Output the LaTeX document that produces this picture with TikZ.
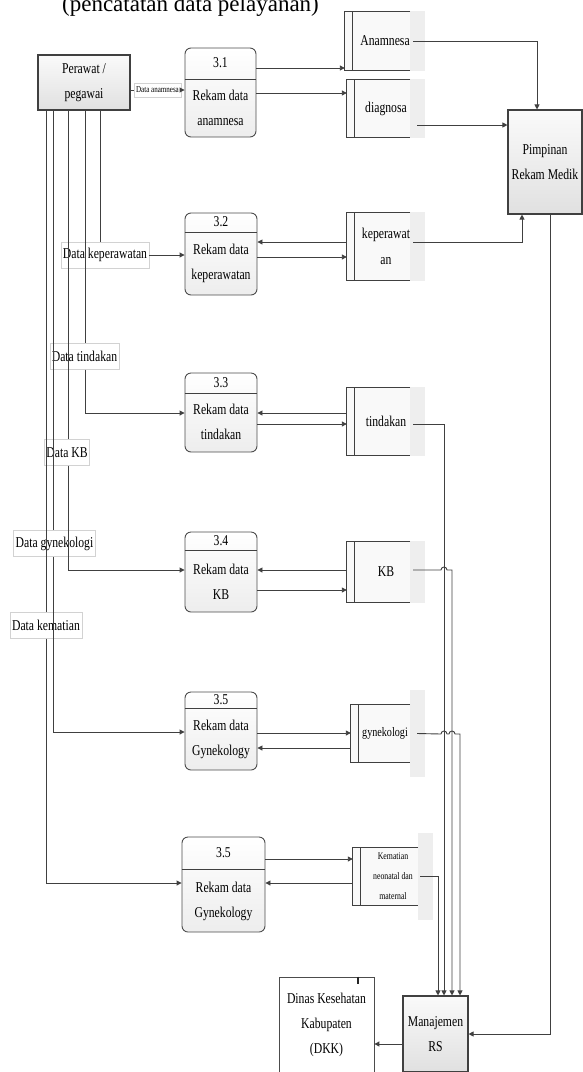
\documentclass[tikz,border=0pt]{standalone}
\usepackage{fontspec}
\setmainfont{Liberation Serif}[FakeStretch=0.78]
\newfontfamily\titlefont{Liberation Serif}
\usepackage{tikz}
\usetikzlibrary{arrows.meta,calc,backgrounds}
% open data store: double left bar, top/bottom rules, light strip on the right
\newcommand{\storelines}[2]{%
  \begin{pgfonlayer}{background}
    \fill[gray!5] (#1.north west) rectangle (#1.south east);
    \fill[gray!13] ([xshift=-15pt,yshift=#2pt]#1.north east) rectangle ([yshift=-#2pt]#1.south east);
  \end{pgfonlayer}
  \draw[ln] ([xshift=-15pt]#1.north east) -- (#1.north west) -- (#1.south west) -- ([xshift=-15pt]#1.south east);
  \draw[ln] ([xshift=8pt]#1.north west) -- ([xshift=8pt]#1.south west);
}

\begin{document}
\begin{tikzpicture}[
    x=1pt, y=-1pt,
    every node/.style={font=\fontsize{15}{25}\selectfont, align=center, inner sep=0pt},
    ent/.style={draw=black!75, line width=1.1pt, top color=gray!4, bottom color=gray!24},
    proc/.style={draw=black!70, line width=0.9pt, rounded corners=6pt, top color=white, bottom color=gray!14, minimum width=72pt},
    store/.style={},
    lbl/.style={draw=gray!35, line width=0.4pt, inner xsep=2pt, minimum height=26pt},
    ln/.style={line width=0.9pt, draw=black!75},
    arr/.style={ln, -{Triangle[length=5pt,width=5pt]}}
  ]
  \useasboundingbox (0,0) rectangle (582,1072);

  \node[anchor=base, font=\titlefont\fontsize{23}{28}\selectfont] (judul) at (190.5,11) {(pencatatan data pelayanan)};

  % entitas
  \node[ent, minimum width=92pt, minimum height=55pt] (perawat) at (84,82.5) {Perawat /\\pegawai};
  \node[ent, minimum width=74pt, minimum height=104pt] (pimpinan) at (545,162) {Pimpinan\\Rekam Medik};
  \node[ent, minimum width=65pt, minimum height=76pt] (manaj) at (435.5,1034) {Manajemen\\RS};
  \node[draw=black!70, line width=0.8pt, fill=white, minimum width=95pt, minimum height=95pt] (dinas) at (326.5,1024.5) {Dinas Kesehatan\\Kabupaten\\(DKK)};
  \draw[line width=2.5pt, black!85] ([xshift=31.5pt]dinas.north) -- ++(0,7);

  % proses
  \node[proc, minimum width=71pt, minimum height=89pt] (p31) at (220.5,92.5) {};
  \node (p31n) at (220.5,63) {3.1};
  \node (p31t) at (220.5,108) {Rekam data\\anamnesa};
  \draw[ln] (p31.west |- 0,79) -- (p31.east |- 0,79);

  \node[proc, minimum height=82pt] (p32) at (221,254) {};
  \node (p32n) at (221,222) {3.2};
  \node (p32t) at (221,263) {Rekam data\\keperawatan};
  \draw[ln] (p32.west |- 0,232) -- (p32.east |- 0,232);

  \node[proc, minimum height=79pt] (p33) at (221,412.5) {};
  \node (p33n) at (221,383) {3.3};
  \node (p33t) at (221,422) {Rekam data\\tindakan};
  \draw[ln] (p33.west |- 0,393) -- (p33.east |- 0,393);

  \node[proc, minimum height=80pt] (p34) at (221,572) {};
  \node (p34n) at (221,541) {3.4};
  \node (p34t) at (221,582) {Rekam data\\KB};
  \draw[ln] (p34.west |- 0,550) -- (p34.east |- 0,550);

  \node[proc, minimum height=78pt] (p35) at (221,731) {};
  \node (p35n) at (221,700) {3.5};
  \node (p35t) at (221,739) {Rekam data\\Gynekology};
  \draw[ln] (p35.west |- 0,708) -- (p35.east |- 0,708);

  \node[proc, minimum width=83pt, minimum height=95pt] (p35b) at (223.5,884.5) {};
  \node (p35bn) at (223.5,853) {3.5};
  \node (p35bt) at (223.5,901) {Rekam data\\Gynekology};
  \draw[ln] (p35b.west |- 0,869) -- (p35b.east |- 0,869);

  % data store
  \node[store, minimum width=80pt, minimum height=58pt] (sAnam) at (385,41) {Anamnesa};
  \storelines{sAnam}{1}
  \node[store, minimum width=78pt, minimum height=57pt] (sDiag) at (386,108.5) {diagnosa};
  \storelines{sDiag}{1}
  \node[store, minimum width=78pt, minimum height=67pt, font=\fontsize{15}{26}\selectfont] (sKep) at (386,246.5) {keperawat\\an};
  \storelines{sKep}{1}
  \node[store, minimum width=78pt, minimum height=67pt] (sTin) at (386,421.5) {tindakan};
  \storelines{sTin}{1}
  \node[store, minimum width=78pt, minimum height=60pt] (sKB) at (386,572) {KB};
  \storelines{sKB}{1}
  \node[store, minimum width=74pt, minimum height=57pt, font=\fontsize{13}{20}\selectfont] (sGyn) at (388,733.5) {\hspace*{-6pt}gynekologi};
  \storelines{sGyn}{15}
  \node[store, minimum width=80pt, minimum height=57pt, font=\fontsize{10}{20}\selectfont] (sKem) at (393,876.5) {Kematian\\neonatal dan\\maternal};
  \storelines{sKem}{15}

  % label aliran
  \node[lbl, fill=white, font=\fontsize{9}{11}\selectfont, minimum height=14pt] (lblAnam) at (157.5,90) {Data anamnesa};
  \node[lbl] (lblKep) at (105,255) {Data keperawatan};
  \node[lbl] (lblTin) at (84.5,356.5) {Data tindakan};
  \node[lbl] (lblKB) at (67,452.5) {Data KB};
  \node[lbl] (lblGyn) at (54.5,543.5) {Data gynekologi};
  \node[lbl] (lblKem) at (46,625.5) {Data kematian};

  % perawat ke proses
  \draw[ln] (perawat.east |- lblAnam) -- (lblAnam.west);
  \draw[arr] (lblAnam.east) -- (p31.west |- lblAnam);
  \draw[ln] (perawat.south -| 100,0) -- (lblKep.north -| 100,0);
  \draw[arr] (lblKep.east) -- (p32.west |- lblKep.east);
  \draw[ln] (perawat.south -| 85,0) -- (lblTin.north -| 85,0);
  \draw[arr] (lblTin.south -| 85,0) |- (p33.west |- 0,413);
  \draw[ln] (perawat.south -| 68,0) -- (lblKB.north -| 68,0);
  \draw[arr] (lblKB.south -| 68,0) |- (p34.west |- 0,570);
  \draw[ln] (perawat.south -| 53,0) -- (lblGyn.north -| 53,0);
  \draw[arr] (lblGyn.south -| 53,0) |- (p35.west |- 0,732);
  \draw[ln] (perawat.south -| 46,0) -- (lblKem.north -| 46,0);
  \draw[arr] (lblKem.south -| 46,0) |- (p35b.west |- 0,883);

  % proses <-> data store
  \draw[arr] (p31.east |- 0,68) -- (sAnam.west |- 0,68);
  \draw[arr] (p31.east |- 0,93) -- (sDiag.west |- 0,93);
  \draw[arr] (sKep.west |- 0,242) -- (p32.east |- 0,242);
  \draw[arr] (p32.east |- 0,257) -- (sKep.west |- 0,257);
  \draw[arr] (sTin.west |- 0,413) -- (p33.east |- 0,413);
  \draw[arr] (p33.east |- 0,424) -- (sTin.west |- 0,424);
  \draw[arr] (sKB.west |- 0,570) -- (p34.east |- 0,570);
  \draw[arr] (p34.east |- 0,590) -- (sKB.west |- 0,590);
  \draw[arr] (p35.east |- 0,733) -- (sGyn.west |- 0,733);
  \draw[arr] (sGyn.west |- 0,748) -- (p35.east |- 0,748);
  \draw[arr] (p35b.east |- 0,859) -- (sKem.west |- 0,859);
  \draw[arr] (sKem.west |- 0,883) -- (p35b.east |- 0,883);

  % data store ke pimpinan / manajemen
  \draw[arr] ([xshift=-12pt]sAnam.east) -| ([xshift=-8pt]pimpinan.north);
  \draw[arr] ([xshift=-8pt,yshift=-16.5pt]sDiag.east) -- (pimpinan.west |- 0,125);
  \draw[arr] ([xshift=-12pt,yshift=4.5pt]sKep.east) -| ([xshift=-23pt]pimpinan.south);
  \draw[arr] ([xshift=-12pt,yshift=-2.5pt]sTin.east) -| (manaj.north -| 444,0);
  \draw[arr] ([xshift=-12pt,yshift=2pt]sKB.east) -- (441,570) arc[start angle=180, end angle=360, radius=3] -- (452,570) -- (manaj.north -| 452,0);
  \draw[arr] ([xshift=-8pt]sGyn.east) -- (441,734) arc[start angle=180, end angle=360, radius=3] -- (449,734) arc[start angle=180, end angle=360, radius=3] -- (460,734) -- (manaj.north -| 460,0);
  \draw[arr] ([xshift=-13pt]sKem.east) -| (manaj.north -| 438,0);
  \draw[arr] ([xshift=5pt]pimpinan.south) |- (manaj.east);
  \draw[arr] (manaj.west |- 0,1044) -- (dinas.east |- 0,1044);
\end{tikzpicture}
\end{document}
